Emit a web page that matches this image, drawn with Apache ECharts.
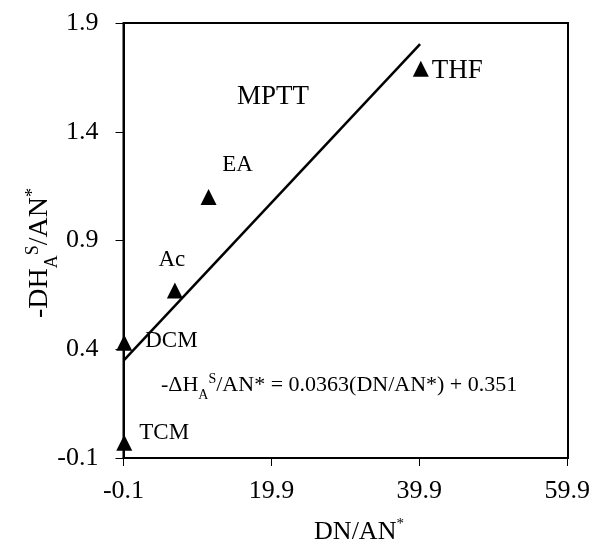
<!DOCTYPE html>
<html>
<head>
<meta charset="utf-8">
<script src="https://cdn.jsdelivr.net/npm/echarts@6/dist/echarts.min.js"></script>
<style>html,body{margin:0;padding:0;background:#fff;}#c{width:593px;height:545px;}</style>
</head>
<body>
<div id="c"></div>
<script>
// Data
const solvents = ['TCM', 'DCM', 'Ac', 'EA', 'THF'];
const dnOverAn = [0.0, 0.0, 6.85, 11.4, 40.1];
const dhOverAn = [-0.03, 0.43, 0.67, 1.10, 1.69];
const fitX = [0.0, 40.0];
const fitY = [0.351, 1.803];
const xTicks = [-0.1, 19.9, 39.9, 59.9];
const yTicks = [-0.1, 0.4, 0.9, 1.4, 1.9];

const FONT = 'Liberation Serif';
const chart = echarts.init(document.getElementById('c'), null, {renderer: 'canvas'});

const labelCfg = {
  TCM: {position: 'right', offset: [2, -10], fontSize: 23},
  DCM: {position: 'right', offset: [8, -2], fontSize: 23},
  Ac:  {position: 'top', offset: [-3, -6], fontSize: 23},
  EA:  {position: 'top', offset: [29, -8], fontSize: 23},
  THF: {position: 'right', offset: [-2, 2], fontSize: 27}
};

const pts = solvents.map((s, i) => ({
  value: [dnOverAn[i], dhOverAn[i]],
  name: s,
  label: Object.assign({show: true, formatter: s, color: '#000', opacity: 1, fontFamily: FONT}, labelCfg[s])
}));

chart.setOption({
  animation: false,
  grid: {left: 123.5, right: 25, top: 23, bottom: 87},
  xAxis: {
    type: 'value', min: xTicks[0], max: xTicks[xTicks.length - 1], interval: 20,
    axisLine: {show: true, onZero: false, lineStyle: {color: '#000', width: 2}},
    axisTick: {show: true, inside: false, length: 8, lineStyle: {color: '#000', width: 1}},
    axisLabel: {color: '#000', fontFamily: FONT, fontSize: 26, margin: 20,
      formatter: v => v.toFixed(1)},
    splitLine: {show: false}
  },
  yAxis: {
    type: 'value', min: yTicks[0], max: yTicks[yTicks.length - 1], interval: 0.5,
    axisLine: {show: true, onZero: false, lineStyle: {color: '#000', width: 2}},
    axisTick: {show: true, inside: false, length: 8, lineStyle: {color: '#000', width: 1}},
    axisLabel: {color: '#000', fontFamily: FONT, fontSize: 26, margin: 25,
      formatter: v => v.toFixed(1)},
    splitLine: {show: false}
  },
  graphic: [
    {type: 'rect', shape: {x: 123.5, y: 23, width: 568 - 123.5, height: 458 - 23},
     style: {fill: 'none', stroke: '#000', lineWidth: 2}, z: 100, silent: true},
    {type: 'text', x: 273, y: 97, style: {text: 'MPTT', font: '27px "Liberation Serif"', fill: '#000', align: 'center', verticalAlign: 'middle'}},
    {type: 'text', x: 161, y: 385, style: {
      text: '{m|-ΔH}{sub|A}{sup|S}{m|/AN* = 0.0363(DN/AN*) + 0.351}',
      fill: '#000', align: 'left', verticalAlign: 'middle',
      rich: {
        m: {fontFamily: FONT, fontSize: 22, lineHeight: 26, verticalAlign: 'middle'},
        sub: {fontFamily: FONT, fontSize: 14, lineHeight: 14, verticalAlign: 'bottom', padding: [0, 0, -4, 0]},
        sup: {fontFamily: FONT, fontSize: 14, lineHeight: 14, verticalAlign: 'top'}
      }}},
    {type: 'text', x: 359, y: 532, style: {
      text: '{m|DN/AN}{sup|*}', fill: '#000', align: 'center', verticalAlign: 'middle',
      rich: {
        m: {fontFamily: FONT, fontSize: 26, lineHeight: 30, verticalAlign: 'middle'},
        sup: {fontFamily: FONT, fontSize: 15, lineHeight: 15, verticalAlign: 'top'}
      }}},
    {type: 'text', x: 40, y: 253, rotation: Math.PI / 2, style: {
      text: '{m|-DH}{sub|A}{sup|S}{m|/AN}{sup|*}', fill: '#000', align: 'center', verticalAlign: 'middle',
      rich: {
        m: {fontFamily: FONT, fontSize: 28, lineHeight: 32, verticalAlign: 'middle'},
        sub: {fontFamily: FONT, fontSize: 18, lineHeight: 18, verticalAlign: 'bottom', padding: [0, 0, -5, 0]},
        sup: {fontFamily: FONT, fontSize: 18, lineHeight: 18, verticalAlign: 'top'}
      }}}
  ],
  series: [
    {
      type: 'line', data: fitX.map((x, i) => [x, fitY[i]]),
      showSymbol: false, symbol: 'none',
      lineStyle: {color: '#000', width: 2.5}, z: 2
    },
    {
      type: 'scatter', data: pts, symbol: 'triangle', symbolSize: 16,
      itemStyle: {color: '#000', opacity: 1}, z: 3
    }
  ]
});
</script>
</body>
</html>
